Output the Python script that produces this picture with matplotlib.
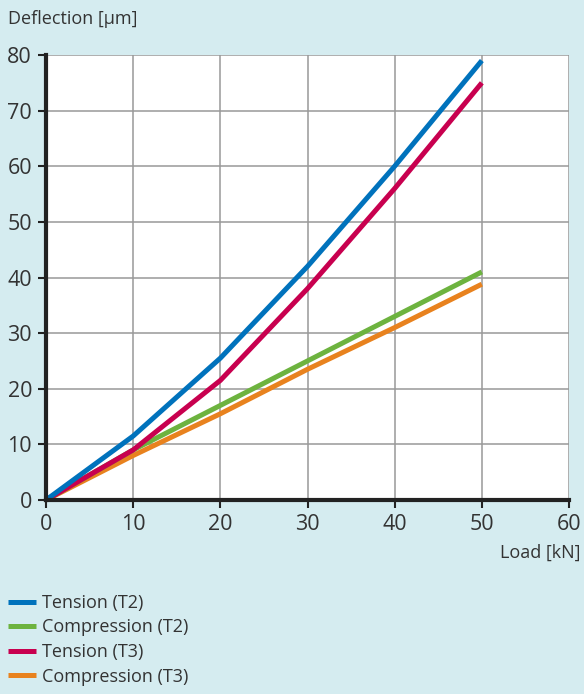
import matplotlib.pyplot as plt

# data
load = [0, 10, 20, 30, 40, 50]
tension_t2 = [0, 11.5, 25.5, 42, 60, 79]
compression_t2 = [0, 9, 17, 25, 33, 41]
tension_t3 = [0, 9, 21.5, 38, 56, 75]
compression_t3 = [0, 8, 15.5, 23.5, 31, 38.8]

labels = ['Tension (T2)', 'Compression (T2)', 'Tension (T3)', 'Compression (T3)']
colors = ['#0072bc', '#6db33f', '#c8004f', '#e8821e']

bg = '#d5ecf0'
txt = '#333333'
plt.rcParams['font.family'] = ['Open Sans', 'DejaVu Sans']

fig = plt.figure(figsize=(5.84, 6.94), dpi=100, facecolor=bg)
ax = fig.add_axes([46 / 584, 194 / 694, 523 / 584, 445 / 694])
ax.set_facecolor('white')

series = [tension_t2, compression_t2, tension_t3, compression_t3]
# compressions drawn below tensions
order = [3, 1, 2, 0]
handles = {}
for i in order:
    h, = ax.plot(load, series[i], color=colors[i], lw=3.6, label=labels[i],
                 solid_capstyle='butt', zorder=3)
    handles[i] = h

ax.set_xlim(0, 60)
ax.set_ylim(0, 80)
ax.set_xticks(range(0, 61, 10))
ax.set_yticks(range(0, 81, 10))
ax.grid(True, color='#999999', lw=1.1)
ax.set_axisbelow(True)

for s in ['top', 'right']:
    ax.spines[s].set_visible(False)
for s in ['left', 'bottom']:
    ax.spines[s].set_linewidth(3)
    ax.spines[s].set_color('#222222')
    ax.spines[s].set_zorder(4)

ax.tick_params(axis='both', colors='#222222', labelcolor=txt, labelsize=15.5,
               length=6, width=1.5, pad=4)

fig.text(8 / 584, 1 - 19 / 694, 'Deflection [µm]', fontsize=13, color=txt,
         va='center', ha='left')
fig.text(581 / 584, 1 - 553 / 694, 'Load [kN]', fontsize=13, color=txt,
         va='center', ha='right')

leg = fig.legend([handles[i] for i in range(4)], labels, loc='upper left',
                 bbox_to_anchor=(8 / 584, 1 - 594 / 694), frameon=False,
                 fontsize=13, handlelength=1.55, handletextpad=0.33,
                 labelspacing=0.36, borderpad=0, borderaxespad=0)
for t in leg.get_texts():
    t.set_color(txt)

fig.savefig('out.png', dpi=100, facecolor=bg)
